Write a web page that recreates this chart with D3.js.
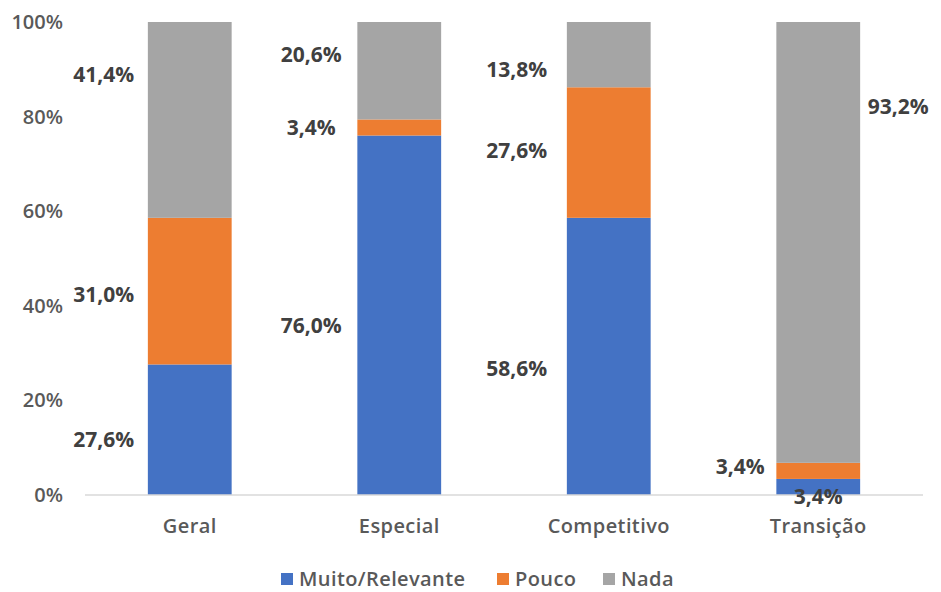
<!DOCTYPE html>
<html><head><meta charset="utf-8">
<script src="https://cdn.jsdelivr.net/npm/d3@7"></script>
<style>body{margin:0;background:#fff;} svg{display:block;font-family:"Open Sans",sans-serif;}</style>
</head><body>
<svg id="c" width="941" height="592"></svg>
<script>
const categories = ["Geral", "Especial", "Competitivo", "Transição"];
const seriesNames = ["Muito/Relevante", "Pouco", "Nada"];
const muito = [27.6, 76.0, 58.6, 3.4];
const pouco = [31.0, 3.4, 27.6, 3.4];
const nada = [41.4, 20.6, 13.8, 93.2];
const yTicks = [0, 20, 40, 60, 80, 100];
// label anchor heights (in % units) as placed in the original
const muitoLabelAt = [11.6, 35.9, 26.8, -0.4];
const poucoLabelAt = [42.3, 77.6, 72.7, 5.9];
const nadaLabelAt = [88.8, 93.0, 90.0, 82.2];
const colors = ["#4472C4", "#ED7D31", "#A5A5A5"];

const svg = d3.select("#c");
const x = d3.scaleBand().domain(categories).range([85, 923]).paddingInner(0.6).paddingOuter(0.3);
const y = d3.scaleLinear().domain([0, 100]).range([495, 22]);

const rows = categories.map((c, i) => ({cat: c, "Muito/Relevante": muito[i], "Pouco": pouco[i], "Nada": nada[i]}));
const stack = d3.stack().keys(seriesNames)(rows);

svg.append("g").selectAll("g").data(stack).join("g")
  .attr("fill", (d, i) => colors[i])
  .selectAll("rect").data(d => d).join("rect")
  .attr("x", d => x(d.data.cat))
  .attr("width", x.bandwidth())
  .attr("y", d => y(d[1]))
  .attr("height", d => y(d[0]) - y(d[1]));

// baseline
svg.append("line").attr("x1", 85).attr("x2", 923).attr("y1", y(0)).attr("y2", y(0))
  .attr("stroke", "#d9d9d9").attr("stroke-width", 1.5);

// y axis tick labels
svg.append("g").selectAll("text").data(yTicks).join("text")
  .attr("x", 63).attr("y", d => y(d)).attr("dy", "0.35em")
  .attr("text-anchor", "end").attr("fill", "#595959")
  .attr("font-size", 20).attr("font-weight", 600)
  .text(d => d + "%");

// category labels
svg.append("g").selectAll("text").data(categories).join("text")
  .attr("x", d => x(d) + x.bandwidth() / 2).attr("y", 526).attr("dy", "0.35em")
  .attr("text-anchor", "middle").attr("fill", "#595959")
  .attr("font-size", 20).attr("font-weight", 600).attr("letter-spacing", 0.4)
  .text(d => d);

// data labels
const fmt = v => v.toFixed(1).replace(".", ",") + "%";
const labelSets = [
  {vals: muito, at: muitoLabelAt, dx: [-86, -88, -92, 0]},
  {vals: pouco, at: poucoLabelAt, dx: [-86, -88, -92, -78]},
  {vals: nada, at: nadaLabelAt, dx: [-86, -88, -92, 80]}
];
const lab = [];
labelSets.forEach(s => s.vals.forEach((v, i) => lab.push({v, at: s.at[i], dx: s.dx[i], cat: categories[i]})));
svg.append("g").selectAll("text").data(lab).join("text")
  .attr("x", d => x(d.cat) + x.bandwidth() / 2 + d.dx).attr("y", d => y(d.at)).attr("dy", "0.35em")
  .attr("text-anchor", "middle").attr("fill", "#404040")
  .attr("font-size", 21).attr("font-weight", 700)
  .text(d => fmt(d.v));

// legend
const legX = [281, 497, 603];
const lg = svg.append("g").selectAll("g").data(seriesNames).join("g")
  .attr("transform", (d, i) => `translate(${legX[i]},579)`);
lg.append("rect").attr("x", 0).attr("y", -6).attr("width", 12).attr("height", 12).attr("fill", (d, i) => colors[i]);
lg.append("text").attr("x", 18).attr("dy", "0.35em").attr("fill", "#595959")
  .attr("font-size", 20).attr("font-weight", 600).attr("letter-spacing", 0.4).text(d => d);
</script>
</body></html>
